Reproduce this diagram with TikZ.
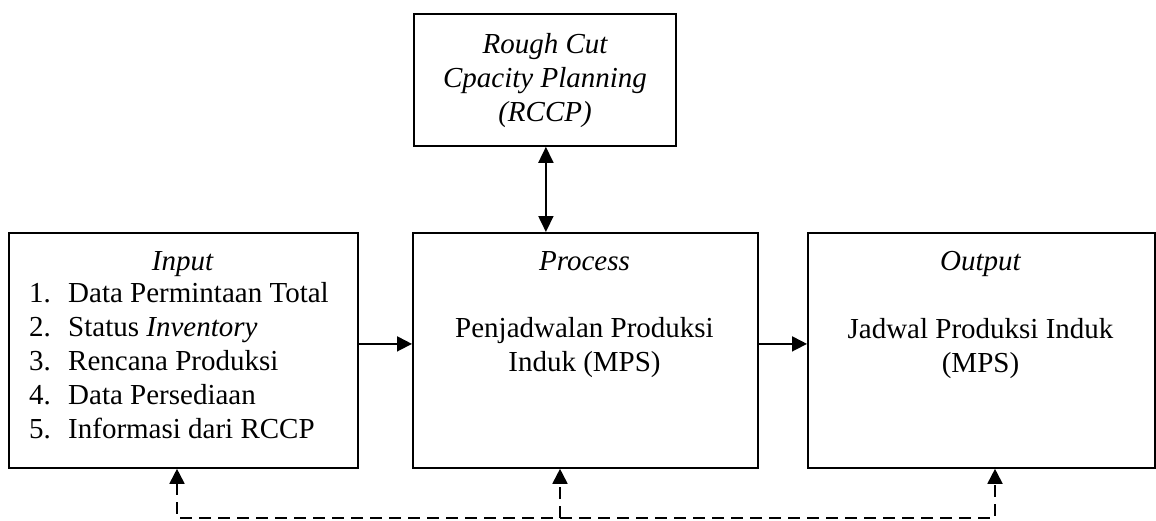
\documentclass[tikz,border=0pt]{standalone}
\usepackage{fontspec}
\setmainfont{Liberation Serif}
\usetikzlibrary{arrows.meta}

\tikzset{
  box/.style={draw, line width=1.8pt, rectangle, inner sep=0pt, anchor=north west},
  txt/.style={inner sep=0pt, font=\fontsize{29}{34}\selectfont},
  arr/.style={line width=1.8pt, -{Triangle[length=15pt,width=15pt]}},
  biarr/.style={line width=1.8pt, {Triangle[length=16pt,width=15pt]}-{Triangle[length=16pt,width=15pt]}},
  fb/.style={line width=1.8pt, dash pattern=on 12pt off 7pt,
    {Triangle[length=15pt,width=15pt]}-{Triangle[length=15pt,width=15pt]}},
  fbup/.style={line width=1.8pt, dash pattern=on 12pt off 7pt,
    -{Triangle[length=15pt,width=15pt]}}
}

\begin{document}
\begin{tikzpicture}[x=1pt, y=-1pt]
\useasboundingbox (0,0) rectangle (1156,520);

% boxes
\node[box, minimum width=262pt, minimum height=132pt] (rccp) at (413,13) {};
\node[box, minimum width=349pt, minimum height=235pt] (inp)  at (8,232) {};
\node[box, minimum width=345pt, minimum height=235pt] (proc) at (412,232) {};
\node[box, minimum width=347pt, minimum height=235pt] (out)  at (807,232) {};

% RCCP text
\node[txt, anchor=base] (r1) at (545,53)  {\itshape Rough Cut};
\node[txt, anchor=base] (r2) at (545,87)  {\itshape Cpacity Planning};
\node[txt, anchor=base] (r3) at (545,121) {\itshape (RCCP)};

% input text
\node[txt, anchor=base] (inT) at (182.5,270) {\itshape Input};
\foreach \n/\t/\y in {1/Data Permintaan Total/302,
                      2/Status \textit{Inventory}/336,
                      3/Rencana Produksi/370,
                      4/Data Persediaan/404,
                      5/Informasi dari RCCP/438}{
  \node[txt, anchor=base west] (num\n) at (29,\y) {\n.};
  \node[txt, anchor=base west] (item\n) at (68,\y) {\t};
}

% process text
\node[txt, anchor=base] (pT) at (584.5,270) {\itshape Process};
\node[txt, anchor=base] (p1) at (584.5,337) {Penjadwalan Produksi};
\node[txt, anchor=base] (p2) at (584.5,371) {Induk (MPS)};

% output text
\node[txt, anchor=base] (oT) at (980.5,270) {\itshape Output};
\node[txt, anchor=base] (o1) at (980.5,338) {Jadwal Produksi Induk};
\node[txt, anchor=base] (o2) at (980.5,372) {(MPS)};

% main flow
\draw[arr] ([yshift=6.5pt]inp.east) -- ([yshift=6.5pt]proc.west);
\draw[arr] ([yshift=6.5pt]proc.east) -- ([yshift=6.5pt]out.west);
\draw[biarr] ([xshift=1pt]rccp.south) -- ([xshift=1pt]rccp.south |- proc.north);

% feedback loop
\coordinate (f1) at (177,518);
\coordinate (f2) at (560,518);
\coordinate (f3) at (995,518);
\draw[fb] (f1 |- inp.south) -- (f1) -- (f3) -- (f3 |- out.south);
\draw[fbup] (f2) -- (f2 |- proc.south);
\end{tikzpicture}
\end{document}
